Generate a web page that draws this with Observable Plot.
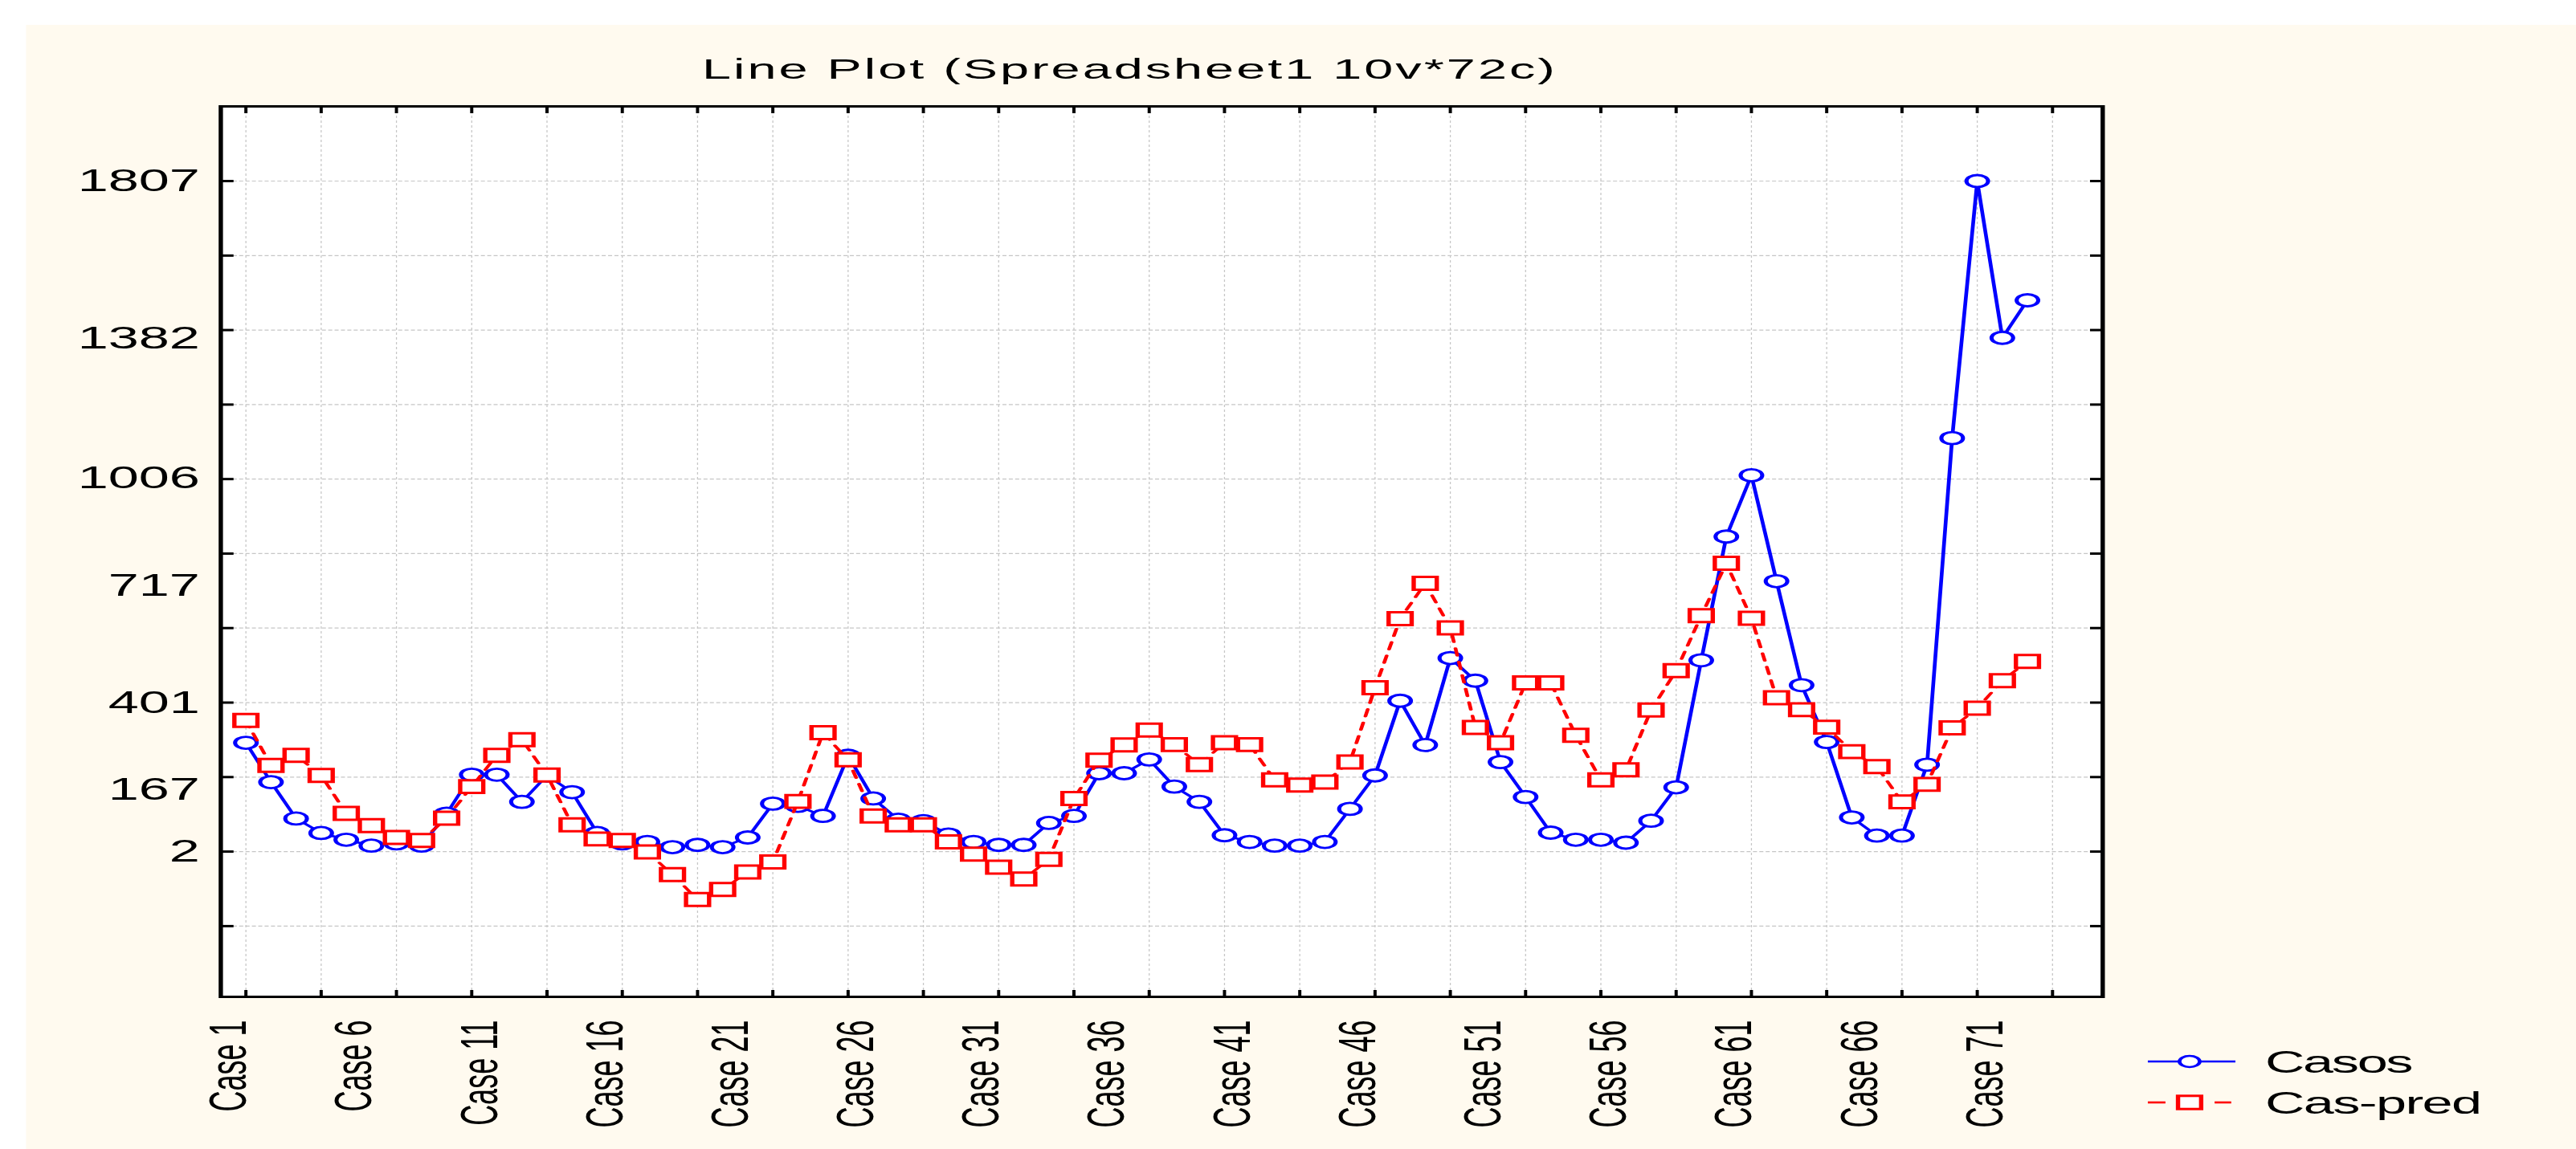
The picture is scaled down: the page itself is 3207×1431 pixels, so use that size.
<!DOCTYPE html>
<html>
<head>
<meta charset="utf-8">
<script src="https://cdn.jsdelivr.net/npm/d3@7"></script>
<script src="https://cdn.jsdelivr.net/npm/@observablehq/plot@0.6"></script>
<style>
  html, body { margin: 0; padding: 0; background: #ffffff; overflow: hidden; }
  #page { position: relative; width: 1782px; height: 1431px; transform: scaleX(1.79966); transform-origin: 0 0;
          font-family: "Liberation Sans", Arial, sans-serif; }
  #panel { position: absolute; left: 17.8px; top: 31px; width: 1764.2px; height: 1400px; background: #fffaef; }
  #chart { position: absolute; left: 0; top: 100px; width: 1782px; }
  #overlay { position: absolute; left: 0; top: 0; overflow: visible; }
</style>
</head>
<body>
<div id="page">
  <div id="panel"></div>
  <div id="chart"></div>
  <svg id="overlay" width="1782" height="1431"></svg>
</div>
<script>
// ---- data ----
const title = "Line Plot (Spreadsheet1 10v*72c)";
const seriesNames = ["Casos", "Cas-pred"];
const cases = d3.range(1, 73); // Case 1 .. Case 72

const casos = [
  295, 189, 91, 52, 34, 18, 24, 18, 104, 209,
  209, 136, 207, 162, 52, 24, 28, 14, 20, 14,
  40, 131, 125, 98, 260, 145, 88, 84, 48, 28,
  20, 20, 79, 98, 213, 213, 250, 177, 136, 46,
  28, 18, 18, 28, 117, 207, 408, 289, 523, 462,
  243, 149, 53, 34, 34, 26, 85, 175, 517, 850,
  1015, 730, 450, 297, 94, 45, 45, 236, 1115, 1807,
  1385, 1486
];

const casPred = [
  355, 234, 261, 207, 105, 72, 40, 32, 92, 177,
  261, 303, 208, 74, 36, 32, 1, -60, -127, -100,
  -53, -26, 137, 322, 249, 98, 74, 74, 28, -5,
  -40, -72, -19, 145, 248, 289, 329, 290, 236, 295,
  290, 195, 181, 189, 243, 443, 629, 724, 604, 336,
  295, 456, 456, 315, 195, 222, 383, 489, 637, 778,
  630, 416, 384, 337, 271, 231, 136, 183, 335, 388,
  462, 514
];

// axis ticks / labels
const xTicks = [1, 4, 7, 10, 13, 16, 19, 22, 25, 28, 31, 34, 37, 40, 43, 46, 49, 52, 55, 58, 61, 64, 67, 70, 73];
const xLabelCases = [1, 6, 11, 16, 21, 26, 31, 36, 41, 46, 51, 56, 61, 66, 71];
const yTicks = [-198.6, 2, 202.6, 403.1, 603.7, 804.2, 1004.8, 1205.3, 1405.9, 1606.4, 1807];
const yLabels = [1807, 1382, 1006, 717, 401, 167, 2];
const xDomain = [0, 75];
const yDomain = [-389, 2008];

const rows = cases.map((c, i) => ({c, casos: casos[i], pred: casPred[i]}));

const FONT = "'Liberation Sans', Arial, sans-serif";
const blue = "#0000ff", red = "#ff0000", grid = "#c6c6c6";

const chart = Plot.plot({
  width: 1782,
  height: 1331,
  marginLeft: 152.25,
  marginRight: 327.9,
  marginTop: 32,
  marginBottom: 190,
  x: {type: "linear", domain: xDomain},
  y: {type: "linear", domain: yDomain},
  style: {background: "none", maxWidth: "none", overflow: "visible", fontFamily: FONT, color: "black"},
  marks: [
    Plot.frame({fill: "white", stroke: "none"}),
    Plot.gridX(xTicks, {stroke: grid, strokeOpacity: 1, strokeWidth: 0.7, strokeDasharray: "3,3"}),
    Plot.gridY(yTicks, {stroke: grid, strokeOpacity: 1, strokeWidth: 1.2, strokeDasharray: "2.8,1.6"}),
    Plot.line(rows, {x: "c", y: "casos", stroke: blue, strokeWidth: 2.6}),
    Plot.dot(rows, {x: "c", y: "casos", r: 7.5, stroke: blue, strokeWidth: 2.8, fill: "white"}),
    Plot.line(rows, {x: "c", y: "pred", stroke: red, strokeWidth: 2.6, strokeDasharray: "9,8"}),
    Plot.dot(rows, {x: "c", y: "pred", symbol: "square", r: 9, stroke: red, strokeWidth: 3, fill: "white"}),
    Plot.frame({stroke: "black", strokeWidth: 3}),
    Plot.axisX(xTicks, {anchor: "top", frameAnchor: "bottom", tickSize: 9, tickFormat: () => "", label: null, strokeWidth: 2.2}),
    Plot.axisX(xTicks, {anchor: "bottom", frameAnchor: "top", tickSize: 9, tickFormat: () => "", label: null, strokeWidth: 2.2}),
    Plot.axisY(yTicks, {anchor: "right", frameAnchor: "left", tickSize: 8.3, tickFormat: () => "", label: null, strokeWidth: 3}),
    Plot.axisY(yTicks, {anchor: "left", frameAnchor: "right", tickSize: 8.3, tickFormat: () => "", label: null, strokeWidth: 3}),
    Plot.text(yLabels, {y: d => d, text: d => String(d), frameAnchor: "left", dx: -14.5, textAnchor: "end", fontSize: 38, fill: "black"}),
    Plot.text(xLabelCases, {x: d => d, text: d => "Case " + d, frameAnchor: "bottom", rotate: -90, textAnchor: "end", dy: 29, fontSize: 36, fill: "black"})
  ]
});
document.getElementById("chart").appendChild(chart);

// ---- title and legend ----
const ov = d3.select("#overlay");
ov.append("text")
  .attr("x", 780.7).attr("y", 98)
  .attr("text-anchor", "middle")
  .attr("font-family", FONT).attr("font-size", 36).attr("fill", "black")
  .attr("textLength", 590).attr("lengthAdjust", "spacing")
  .text(title);

const lg = ov.append("g");
// Casos
lg.append("line").attr("x1", 1485.8).attr("x2", 1546.4).attr("y1", 1322).attr("y2", 1322)
  .attr("stroke", blue).attr("stroke-width", 2.6);
lg.append("circle").attr("cx", 1514.7).attr("cy", 1322).attr("r", 7)
  .attr("fill", "white").attr("stroke", blue).attr("stroke-width", 2.6);
lg.append("text").attr("x", 1567).attr("y", 1322).attr("dy", "0.36em")
  .attr("font-family", FONT).attr("font-size", 38).attr("fill", "black")
  .attr("textLength", 102.5).attr("lengthAdjust", "spacing")
  .text(seriesNames[0]);
// Cas-pred
lg.append("line").attr("x1", 1485.8).attr("x2", 1498).attr("y1", 1373).attr("y2", 1373)
  .attr("stroke", red).attr("stroke-width", 2.6);
lg.append("line").attr("x1", 1532).attr("x2", 1543.5).attr("y1", 1373).attr("y2", 1373)
  .attr("stroke", red).attr("stroke-width", 2.6);
lg.append("rect").attr("x", 1514.7 - 8).attr("y", 1373 - 8.2).attr("width", 16).attr("height", 16.4)
  .attr("fill", "white").attr("stroke", red).attr("stroke-width", 3);
lg.append("text").attr("x", 1567).attr("y", 1373).attr("dy", "0.36em")
  .attr("font-family", FONT).attr("font-size", 38).attr("fill", "black")
  .attr("textLength", 150).attr("lengthAdjust", "spacing")
  .text(seriesNames[1]);
</script>
</body>
</html>
